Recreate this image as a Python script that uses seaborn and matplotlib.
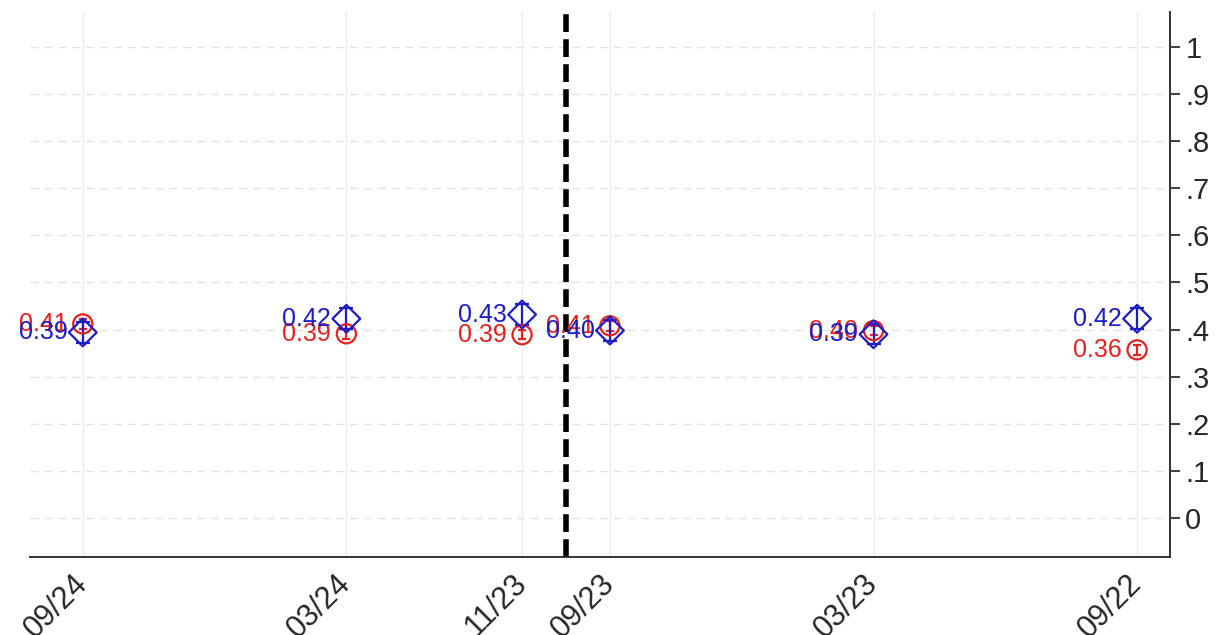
import numpy as np
import pandas as pd
import matplotlib
matplotlib.use("Agg")
import matplotlib.pyplot as plt
import seaborn as sns

# survey waves (left to right, newest first)
waves = ["09/24", "03/24", "11/23", "09/23", "03/23", "09/22"]

red_vals = [0.412, 0.391, 0.389, 0.408, 0.398, 0.357]
red_lo = [0.401, 0.381, 0.379, 0.397, 0.388, 0.346]
red_hi = [0.423, 0.401, 0.399, 0.419, 0.408, 0.368]

blue_vals = [0.394, 0.423, 0.432, 0.398, 0.390, 0.423]
blue_lo = [0.372, 0.401, 0.410, 0.376, 0.369, 0.401]
blue_hi = [0.416, 0.446, 0.455, 0.420, 0.411, 0.446]

break_wave = "10/23"
y_ticks = [0, 0.1, 0.2, 0.3, 0.4, 0.5, 0.6, 0.7, 0.8, 0.9, 1.0]
y_tick_labels = ["0", ".1", ".2", ".3", ".4", ".5", ".6", ".7", ".8", ".9", "1"]

RED = "#e8201c"
BLUE = "#1c1cc8"


def month_index(lbl):
    m, y = lbl.split("/")
    return (int(y) - 22) * 12 + int(m) - 9


xpos = [month_index(w) for w in waves]
df = pd.DataFrame({
    "x": xpos * 2,
    "value": red_vals + blue_vals,
    "lo": red_lo + blue_lo,
    "hi": red_hi + blue_hi,
    "series": ["red"] * len(waves) + ["blue"] * len(waves),
})

sns.set_theme(style="white")
plt.rcParams["font.family"] = ["Liberation Sans", "DejaVu Sans"]

fig = plt.figure(figsize=(12.17, 6.35), dpi=100)
ax = fig.add_axes([0.0247, 0.1228, 0.9367, 0.858])

# grid
for yt in y_ticks:
    ax.axhline(yt, color="#e4e4e4", lw=1.0, ls=(0, (6, 4)), zorder=0)
for xt in xpos:
    ax.axvline(xt, color="#ececec", lw=1.0, zorder=0)

# dashed break line
ax.axvline(month_index(break_wave), color="black", lw=4, ls=(0, (3.2, 1.3)), zorder=1)

styles = {"red": (RED, "o", 190, 3), "blue": (BLUE, "D", 200, 5)}
for name, sub in df.groupby("series", sort=False):
    col, mk, sz, cap = styles[name]
    ax.errorbar(sub["x"], sub["value"],
                yerr=[sub["value"] - sub["lo"], sub["hi"] - sub["value"]],
                fmt="none", ecolor=col, elinewidth=1.6, capsize=cap, capthick=1.6, zorder=2)
    sns.scatterplot(data=sub, x="x", y="value", ax=ax, marker=mk, s=sz,
                    facecolors="none", edgecolor=col, linewidth=1.6, zorder=3, legend=False)
    for _, r in sub.iterrows():
        ax.annotate(f"{r['value']:.2f}", (r["x"], r["value"]), xytext=(-11, 0),
                    textcoords="offset points", ha="right", va="center",
                    color=col, fontsize=18)

ax.set_xlim(25.2, -0.75)
ax.set_ylim(-0.083, 1.074)
ax.set_xticks(xpos)
ax.set_xticklabels(waves, rotation=45, ha="right", va="center", rotation_mode="anchor", fontsize=22)
ax.yaxis.tick_right()
ax.set_yticks(y_ticks)
ax.set_yticklabels(y_tick_labels, fontsize=21)
ax.tick_params(axis="both", length=7, width=1.3, color="#333333", direction="out")
ax.tick_params(axis="x", pad=9)
ax.tick_params(axis="y", pad=4)
ax.set_xlabel("")
ax.set_ylabel("")

for side in ["left", "top"]:
    ax.spines[side].set_visible(False)
for side in ["bottom", "right"]:
    ax.spines[side].set_color("#333333")
    ax.spines[side].set_linewidth(1.4)

fig.savefig("out.png", dpi=100)
